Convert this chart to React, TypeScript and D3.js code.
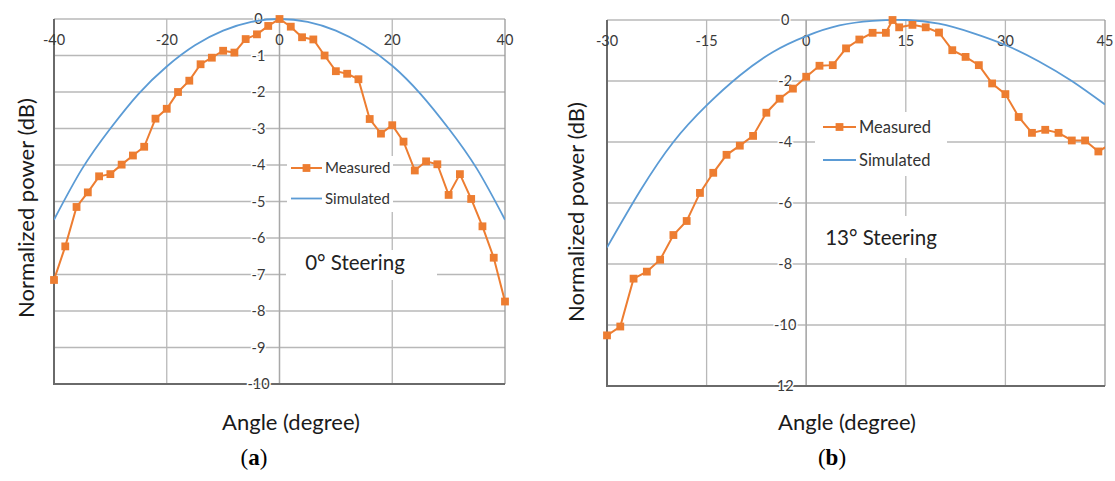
import React from 'react';
import * as d3 from 'd3';

const W = 1115;
const H = 481;

// ---------- Panel (a): 0° steering ----------
const aAngles = [-40, -38, -36, -34, -32, -30, -28, -26, -24, -22, -20, -18, -16, -14, -12, -10, -8, -6, -4, -2, 0,
  2, 4, 6, 8, 10, 12, 14, 16, 18, 20, 22, 24, 26, 28, 30, 32, 34, 36, 38, 40];
const aMeasured = [-7.15, -6.23, -5.15, -4.75, -4.31, -4.25, -3.99, -3.74, -3.5, -2.73, -2.46, -2.0, -1.69, -1.24, -1.06, -0.87, -0.92, -0.55, -0.42, -0.19, 0,
  -0.21, -0.5, -0.56, -1.0, -1.43, -1.5, -1.65, -2.74, -3.14, -2.91, -3.36, -4.15, -3.9, -3.98, -4.82, -4.25, -4.93, -5.68, -6.54, -7.74];
const aSimAngles = [-40, -35, -30, -25, -20, -15, -10, -5, 0, 5, 10, 15, 20, 25, 30, 35, 40];
const aSimulated = [-5.5, -4.1, -3.0, -2.05, -1.3, -0.72, -0.32, -0.08, 0, -0.08, -0.32, -0.72, -1.28, -2.05, -3.0, -4.1, -5.5];
const aXTicks = [-40, -20, 0, 20, 40];
const aYTicks = [0, -1, -2, -3, -4, -5, -6, -7, -8, -9, -10];
const aYTickLabels = ['0', '-1', '-2', '-3', '-4', '-5', '-6', '-7', '-8', '-9', '-10'];

// ---------- Panel (b): 13° steering ----------
const bAngles = [-30, -28, -26, -24, -22, -20, -18, -16, -14, -12, -10, -8, -6, -4, -2, 0, 2, 4, 6, 8, 10, 12, 13,
  14, 16, 18, 20, 22, 24, 26, 28, 30, 32, 34, 36, 38, 40, 42, 44, 46];
const bMeasured = [-10.34, -10.05, -8.48, -8.25, -7.86, -7.05, -6.59, -5.67, -5.01, -4.42, -4.12, -3.8, -3.04, -2.58, -2.25, -1.86, -1.5, -1.48, -0.93, -0.64, -0.42, -0.42, 0,
  -0.24, -0.16, -0.24, -0.41, -0.99, -1.21, -1.48, -2.08, -2.43, -3.18, -3.7, -3.6, -3.7, -3.95, -3.95, -4.31, -4.05];
const bSimAngles = [-30, -25, -20, -15, -10, -5, 0, 5, 10, 15, 20, 25, 30, 35, 40, 45];
const bSimulated = [-7.46, -5.6, -4.0, -2.8, -1.82, -1.05, -0.53, -0.18, -0.03, 0, -0.12, -0.42, -0.82, -1.35, -2.0, -2.77];
const bXTicks = [-30, -15, 0, 15, 30, 45];
const bYTicks = [0, -2, -4, -6, -8, -10, -12];
const bYTickLabels = ['0', '-2', '-4', '-6', '-8', '-10', '12'];

const ORANGE = '#ED7D31';
const BLUE = '#5B9BD5';
const GRID = '#b8b8b8';
const FONT = 'Lato, "Open Sans", sans-serif';

type Box = [number, number, number, number];

type PanelProps = {
  id: string;
  left: number; right: number; top: number; bottom: number;
  xDomain: [number, number]; yDomain: [number, number];
  xTicks: number[]; yTicks: number[]; yTickLabels: string[];
  mAngles: number[]; mValues: number[];
  sAngles: number[]; sValues: number[];
  legend: { x: number; yM: number; yS: number; len: number; fs: number; box: Box };
  note: { text: string; x: number; y: number; fs: number; box: Box };
  yTitle: { x: number; y: number };
  xTitle: { x: number; y: number };
  tag: { letter: string; x: number; y: number };
};

function Panel(p: PanelProps) {
  const x = d3.scaleLinear().domain(p.xDomain).range([p.left, p.right]);
  const y = d3.scaleLinear().domain(p.yDomain).range([p.top, p.bottom]);
  const x0 = x(0);

  const measPts: [number, number][] = p.mAngles.map((a, i) => [a, p.mValues[i]]);
  const simPts: [number, number][] = p.sAngles.map((a, i) => [a, p.sValues[i]]);
  const lineM = d3.line<[number, number]>().x(d => x(d[0])).y(d => y(d[1]));
  const lineS = d3.line<[number, number]>().x(d => x(d[0])).y(d => y(d[1])).curve(d3.curveNatural);
  const inDomain = measPts.filter(d => d[0] >= p.xDomain[0] && d[0] <= p.xDomain[1]);
  const ms = 7.8;

  return (
    <g>
      <defs>
        <clipPath id={`clip-${p.id}`}>
          <rect x={p.left} y={p.top - 2} width={p.right - p.left} height={p.bottom - p.top + 4} />
        </clipPath>
      </defs>
      {/* horizontal gridlines */}
      {p.yTicks.map(t => (
        <line key={`h${t}`} x1={p.left} x2={p.right} y1={y(t)} y2={y(t)} stroke={GRID} strokeWidth={1.3} />
      ))}
      {/* vertical gridlines */}
      {p.xTicks.map(t => (
        <line key={`v${t}`} x1={x(t)} x2={x(t)} y1={p.top} y2={p.bottom} stroke={t === p.xDomain[1] ? '#999' : GRID} strokeWidth={1.3} />
      ))}
      {/* y axis at 0 */}
      <line x1={x0} x2={x0} y1={p.top} y2={p.bottom} stroke="#a8a8a8" strokeWidth={1.3} />
      {/* plot border left & bottom */}
      <line x1={p.left} x2={p.left} y1={p.top} y2={p.bottom + 1} stroke="#6a6a6a" strokeWidth={2} />
      <line x1={p.left} x2={p.right} y1={p.bottom} y2={p.bottom} stroke="#6a6a6a" strokeWidth={2} />

      {/* y tick labels */}
      {p.yTicks.map((t, i) => (
        <text key={`yl${t}`} x={x0 - 21} y={y(t) + 5} textAnchor="middle" fontFamily={FONT} fontSize={14.5}
          fill="#3a3a3a" stroke="#fff" strokeWidth={3} paintOrder="stroke">{p.yTickLabels[i]}</text>
      ))}
      {/* x tick labels (top) */}
      {p.xTicks.map(t => (
        <text key={`xl${t}`} x={x(t)} y={p.top + 26} textAnchor="middle" fontFamily={FONT} fontSize={14.5} fill="#3a3a3a">{t}</text>
      ))}

      {/* simulated */}
      <path d={lineS(simPts) || ''} fill="none" stroke={BLUE} strokeWidth={1.8} clipPath={`url(#clip-${p.id})`} />
      {/* measured */}
      <path d={lineM(measPts) || ''} fill="none" stroke={ORANGE} strokeWidth={2} clipPath={`url(#clip-${p.id})`} />
      {inDomain.map((d, i) => (
        <rect key={`m${i}`} x={x(d[0]) - ms / 2} y={y(d[1]) - ms / 2} width={ms} height={ms} fill={ORANGE} />
      ))}

      {/* legend */}
      <rect x={p.legend.box[0]} y={p.legend.box[1]} width={p.legend.box[2]} height={p.legend.box[3]} fill="#fff" />
      <line x1={p.legend.x} x2={p.legend.x + p.legend.len} y1={p.legend.yM} y2={p.legend.yM} stroke={ORANGE} strokeWidth={2} />
      <rect x={p.legend.x + p.legend.len / 2 - ms / 2} y={p.legend.yM - ms / 2} width={ms} height={ms} fill={ORANGE} />
      <text x={p.legend.x + p.legend.len + 3} y={p.legend.yM + p.legend.fs * 0.35} fontFamily={FONT} fontSize={p.legend.fs} fill="#333">Measured</text>
      <line x1={p.legend.x} x2={p.legend.x + p.legend.len} y1={p.legend.yS} y2={p.legend.yS} stroke={BLUE} strokeWidth={1.8} />
      <text x={p.legend.x + p.legend.len + 3} y={p.legend.yS + p.legend.fs * 0.35} fontFamily={FONT} fontSize={p.legend.fs} fill="#333">Simulated</text>

      {/* annotation */}
      <rect x={p.note.box[0]} y={p.note.box[1]} width={p.note.box[2]} height={p.note.box[3]} fill="#fff" />
      <text x={p.note.x} y={p.note.y} textAnchor="middle" fontFamily={FONT} fontSize={p.note.fs} fill="#222">{p.note.text}</text>

      {/* axis titles */}
      <text transform={`translate(${p.yTitle.x},${p.yTitle.y}) rotate(-90)`} textAnchor="middle" dominantBaseline="central"
        fontFamily={FONT} fontSize={22} fill="#1a1a1a">Normalized power (dB)</text>
      <text x={p.xTitle.x} y={p.xTitle.y} textAnchor="middle" fontFamily={FONT} fontSize={22} fill="#1a1a1a">Angle (degree)</text>
      <text x={p.tag.x} y={p.tag.y} textAnchor="middle" fontFamily='"Liberation Serif", serif' fontSize={23} fill="#000">
        (<tspan fontWeight="bold">{p.tag.letter}</tspan>)
      </text>
    </g>
  );
}

export default function App() {
  return (
    <div style={{ position: 'absolute', left: 0, top: 0 }}>
      <svg width={W} height={H} viewBox={`0 0 ${W} ${H}`} style={{ display: 'block', background: '#fff' }}>
        <rect width={W} height={H} fill="#fff" />
        <Panel
          id="a"
          left={54} right={505} top={19} bottom={384}
          xDomain={[-40, 40]} yDomain={[0, -10]}
          xTicks={aXTicks} yTicks={aYTicks} yTickLabels={aYTickLabels}
          mAngles={aAngles} mValues={aMeasured}
          sAngles={aSimAngles} sValues={aSimulated}
          legend={{ x: 291, yM: 168, yS: 198.5, len: 31, fs: 15, box: [287, 156, 106, 56] }}
          note={{ text: '0° Steering', x: 355, y: 270, fs: 20.5, box: [286, 250, 151, 30] }}
          yTitle={{ x: 25, y: 208 }}
          xTitle={{ x: 291, y: 430 }}
          tag={{ letter: 'a', x: 254, y: 465 }}
        />
        <Panel
          id="b"
          left={607} right={1105} top={20} bottom={386}
          xDomain={[-30, 45]} yDomain={[0, -12]}
          xTicks={bXTicks} yTicks={bYTicks} yTickLabels={bYTickLabels}
          mAngles={bAngles} mValues={bMeasured}
          sAngles={bSimAngles} sValues={bSimulated}
          legend={{ x: 823, yM: 127, yS: 160, len: 33, fs: 16.5, box: [815, 112, 132, 64] }}
          note={{ text: '13° Steering', x: 881, y: 245, fs: 20.5, box: [815, 216, 132, 42] }}
          yTitle={{ x: 575, y: 212 }}
          xTitle={{ x: 847, y: 430 }}
          tag={{ letter: 'b', x: 832, y: 465 }}
        />
      </svg>
    </div>
  );
}
